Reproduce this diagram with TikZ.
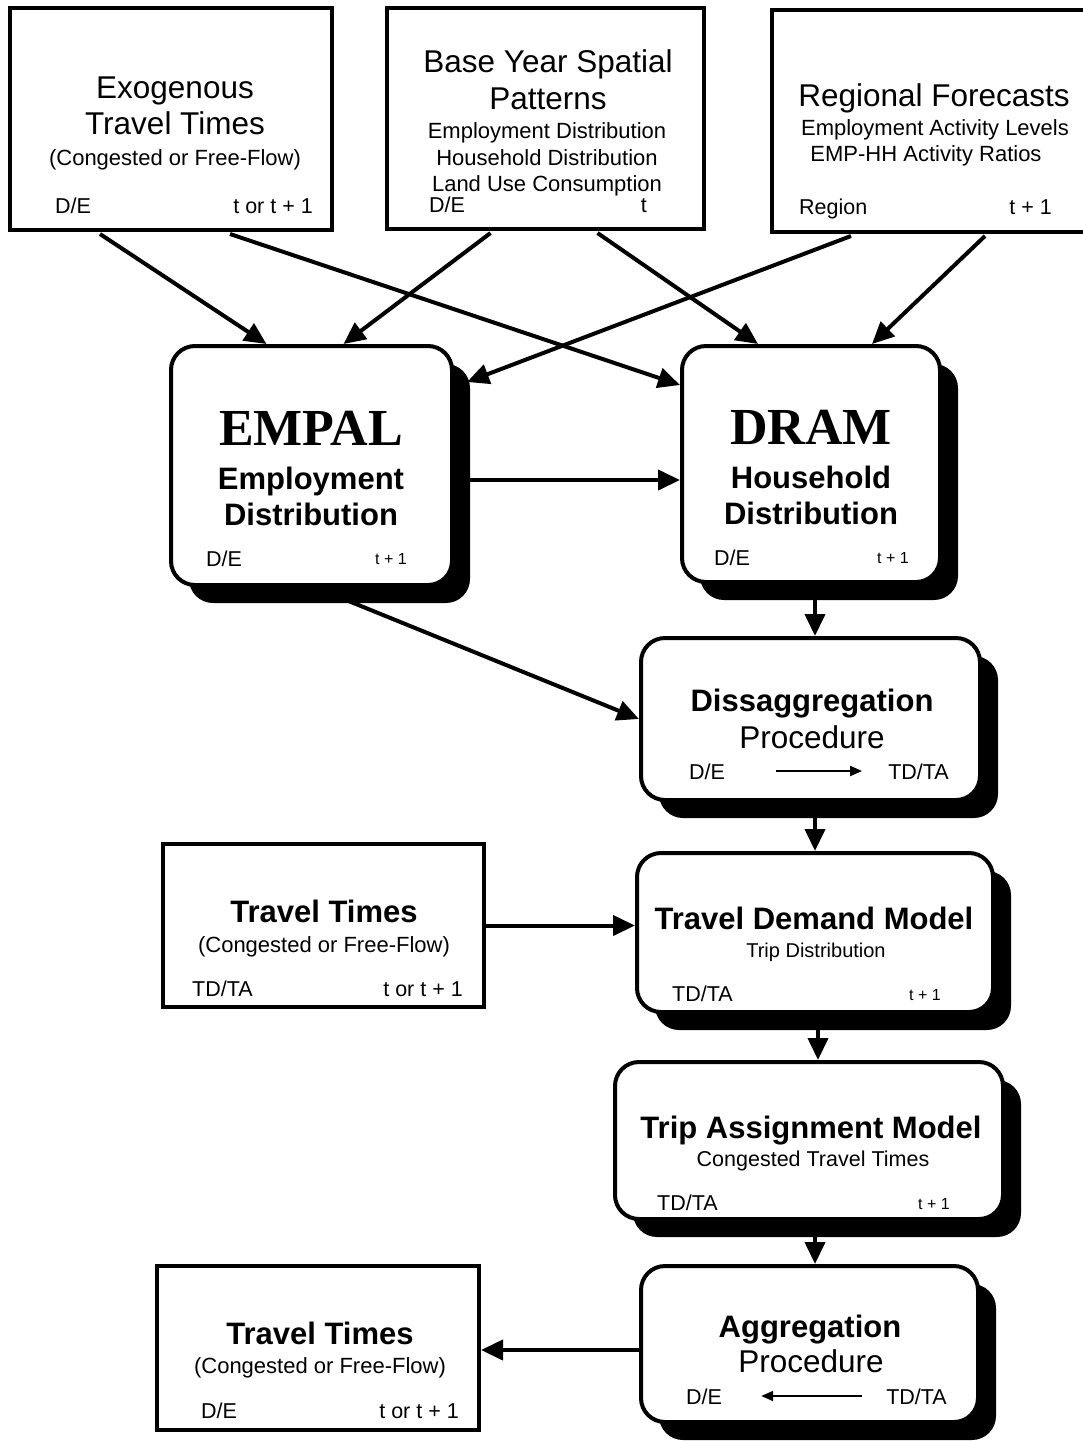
\documentclass[tikz,border=0pt]{standalone}
\usepackage{fontspec}
\setmainfont{Liberation Sans}
\newfontfamily\tms{Liberation Serif}
\usetikzlibrary{arrows.meta,shadows,calc}
\begin{document}
\begin{tikzpicture}[x=1pt,y=-1pt,
  sqbox/.style={draw, line width=4pt, fill=white, inner sep=0pt},
  rbox/.style={draw, line width=4pt, fill=white, rounded corners=24pt, inner sep=0pt,
     general shadow={fill=black, shadow xshift=18pt, shadow yshift=-18pt}},
  arr/.style={line width=4pt, -{Triangle[length=22pt,width=20pt]}},
  thinarr/.style={line width=2pt, -{Triangle[length=12pt,width=10pt]}},
  lbl/.style={inner sep=0pt, anchor=base},
  ftitle/.style={font=\fontsize{31.5}{36}\selectfont},
  fbold/.style={font=\fontsize{31}{36}\selectfont\bfseries},
  fsub/.style={font=\fontsize{22}{26}\selectfont},
  fcorner/.style={font=\fontsize{21.5}{26}\selectfont},
  ftiny/.style={font=\fontsize{16}{20}\selectfont},
  fserif/.style={font=\fontsize{52}{60}\selectfont\tms\bfseries},
]
\useasboundingbox[fill=white] (0,0) rectangle (1083,1441);

% ---- boxes
\node[sqbox, minimum width=322pt, minimum height=222pt] (exo) at (171,119) {};
\node[sqbox, minimum width=317pt, minimum height=221pt] (base) at (545.5,118.5) {};
\node[sqbox, minimum width=320pt, minimum height=222pt] (reg) at (932,121) {};
\node[rbox, minimum width=281pt, minimum height=239pt] (empal) at (311.5,465.5) {};
\node[rbox, minimum width=258pt, minimum height=236pt] (dram) at (811,464) {};
\node[rbox, minimum width=339pt, minimum height=162pt] (dis) at (810.5,719) {};
\node[rbox, minimum width=356pt, minimum height=159pt] (tdm) at (815,932.5) {};
\node[rbox, minimum width=388pt, minimum height=157pt] (tam) at (809,1140.5) {};
\node[rbox, minimum width=337pt, minimum height=156pt] (agg) at (809.5,1344) {};
\node[sqbox, minimum width=321pt, minimum height=163pt] (tt1) at (323.5,925.5) {};
\node[sqbox, minimum width=322pt, minimum height=164pt] (tt2) at (318,1348) {};

% ---- texts
\node[lbl, ftitle] (exo1) at (175,98) {Exogenous};
\node[lbl, ftitle] (exo2) at (175,134) {Travel Times};
\node[lbl, fsub] (exo3) at (175,165) {(Congested or Free-Flow)};
\node[lbl, fcorner, anchor=base west] (exoL) at (55,213) {D/E};
\node[lbl, fcorner, anchor=base east] (exoR) at (313,213) {t or t + 1};

\node[lbl, ftitle] (base1) at (548,72) {Base Year Spatial};
\node[lbl, ftitle] (base2) at (548,109) {Patterns};
\node[lbl, fsub] (base3) at (547,138) {Employment Distribution};
\node[lbl, fsub] (base4) at (547,165) {Household Distribution};
\node[lbl, fsub] (base5) at (547,191) {Land Use Consumption};
\node[lbl, fcorner, anchor=base west] (baseL) at (429,212) {D/E};
\node[lbl, fcorner, anchor=base east] (baseR) at (647,212) {t};

\node[lbl, ftitle] (reg1) at (934,106) {Regional Forecasts};
\node[lbl, fsub] (reg2) at (935,135) {Employment Activity Levels};
\node[lbl, fsub] (reg3) at (926,161) {EMP-HH Activity Ratios};
\node[lbl, fcorner, anchor=base west] (regL) at (799,214) {Region};
\node[lbl, fcorner, anchor=base east] (regR) at (1052,214) {t + 1};

\node[lbl, fserif] (emp1) at (311,445) {EMPAL};
\node[lbl, fbold] (emp2) at (311,489) {Employment};
\node[lbl, fbold] (emp3) at (311,525) {Distribution};
\node[lbl, fcorner, anchor=base west] (empL) at (206,566) {D/E};
\node[lbl, ftiny, anchor=base east] (empR) at (407,564) {t + 1};

\node[lbl, fserif] (dram1) at (811,444) {DRAM};
\node[lbl, fbold] (dram2) at (811,488) {Household};
\node[lbl, fbold] (dram3) at (811,524) {Distribution};
\node[lbl, fcorner, anchor=base west] (dramL) at (714,565) {D/E};
\node[lbl, ftiny, anchor=base east] (dramR) at (909,563) {t + 1};

\node[lbl, fbold] (dis1) at (812,711) {Dissaggregation};
\node[lbl, ftitle] (dis2) at (812,748) {Procedure};
\node[lbl, fcorner, anchor=base west] (disL) at (689,779) {D/E};
\node[lbl, fcorner, anchor=base east] (disR) at (949,779) {TD/TA};

\node[lbl, fbold] (tdm1) at (814,929) {Travel Demand Model};
\node[lbl, font=\fontsize{20}{24}\selectfont] (tdm2) at (816,957) {Trip Distribution};
\node[lbl, fcorner, anchor=base west] (tdmL) at (672,1001) {TD/TA};
\node[lbl, ftiny, anchor=base east] (tdmR) at (941,1000) {t + 1};

\node[lbl, fbold] (tam1) at (811,1138) {Trip Assignment Model};
\node[lbl, fcorner] (tam2) at (813,1166) {Congested Travel Times};
\node[lbl, fcorner, anchor=base west] (tamL) at (657,1210) {TD/TA};
\node[lbl, ftiny, anchor=base east] (tamR) at (950,1209) {t + 1};

\node[lbl, fbold] (agg1) at (810,1337) {Aggregation};
\node[lbl, ftitle] (agg2) at (811,1372) {Procedure};
\node[lbl, fcorner, anchor=base west] (aggL) at (686,1404) {D/E};
\node[lbl, fcorner, anchor=base east] (aggR) at (947,1404) {TD/TA};

\node[lbl, fbold] (tt1a) at (324,922) {Travel Times};
\node[lbl, fsub] (tt1b) at (324,952) {(Congested or Free-Flow)};
\node[lbl, fcorner, anchor=base west] (tt1L) at (192,996) {TD/TA};
\node[lbl, fcorner, anchor=base east] (tt1R) at (463,996) {t or t + 1};

\node[lbl, fbold] (tt2a) at (320,1344) {Travel Times};
\node[lbl, fsub] (tt2b) at (320,1373) {(Congested or Free-Flow)};
\node[lbl, fcorner, anchor=base west] (tt2L) at (201,1418) {D/E};
\node[lbl, fcorner, anchor=base east] (tt2R) at (459,1418) {t or t + 1};

% ---- inner arrows
\draw[thinarr] ([shift={(51,-8)}]disL.base east) -- ([shift={(-26,-8)}]disR.base west);
\draw[thinarr] ([shift={(-24,-8)}]aggR.base west) -- ([shift={(39,-8)}]aggL.base east);

% ---- connectors
\draw[arr] ([shift={(-71,2)}]exo.south) -- ([shift={(-45,0)}]empal.north);
\draw[arr] ([shift={(59,2)}]exo.south) -- ([shift={(0,41)}]dram.north west);
\draw[arr] ([shift={(-55,2)}]base.south) -- ([shift={(32,0)}]empal.north);
\draw[arr] ([shift={(52,2)}]base.south) -- ([shift={(-53,0)}]dram.north);
\draw[arr] ([shift={(-81,2)}]reg.south) -- ([shift={(13,38)}]empal.north east);
\draw[arr] ([shift={(53,2)}]reg.south) -- ([shift={(61,0)}]dram.north);
\draw[arr] ([shift={(0,14.5)}]empal.east) -- ([shift={(0,14.5)}]empal.east -| dram.west);
\draw[arr] ([shift={(4,0)}]dram.south) -- ([shift={(4,0)}]dram.south |- dis.north);
\draw[arr] ([shift={(10,3)}]empal.south) -- (dis.west);
\draw[arr] (tdm.north |- dis.south) -- (tdm.north);
\draw[arr] ([shift={(3,0)}]tdm.south) -- ([shift={(3,0)}]tdm.south |- tam.north);
\draw[arr] ([shift={(6,0)}]tam.south) -- ([shift={(6,0)}]tam.south |- agg.north);
\draw[arr] (tt1.east) -- (tt1.east -| tdm.west);
\draw[arr] ([shift={(0,6)}]agg.west) -- ([shift={(0,6)}]agg.west -| tt2.east);
\end{tikzpicture}
\end{document}
